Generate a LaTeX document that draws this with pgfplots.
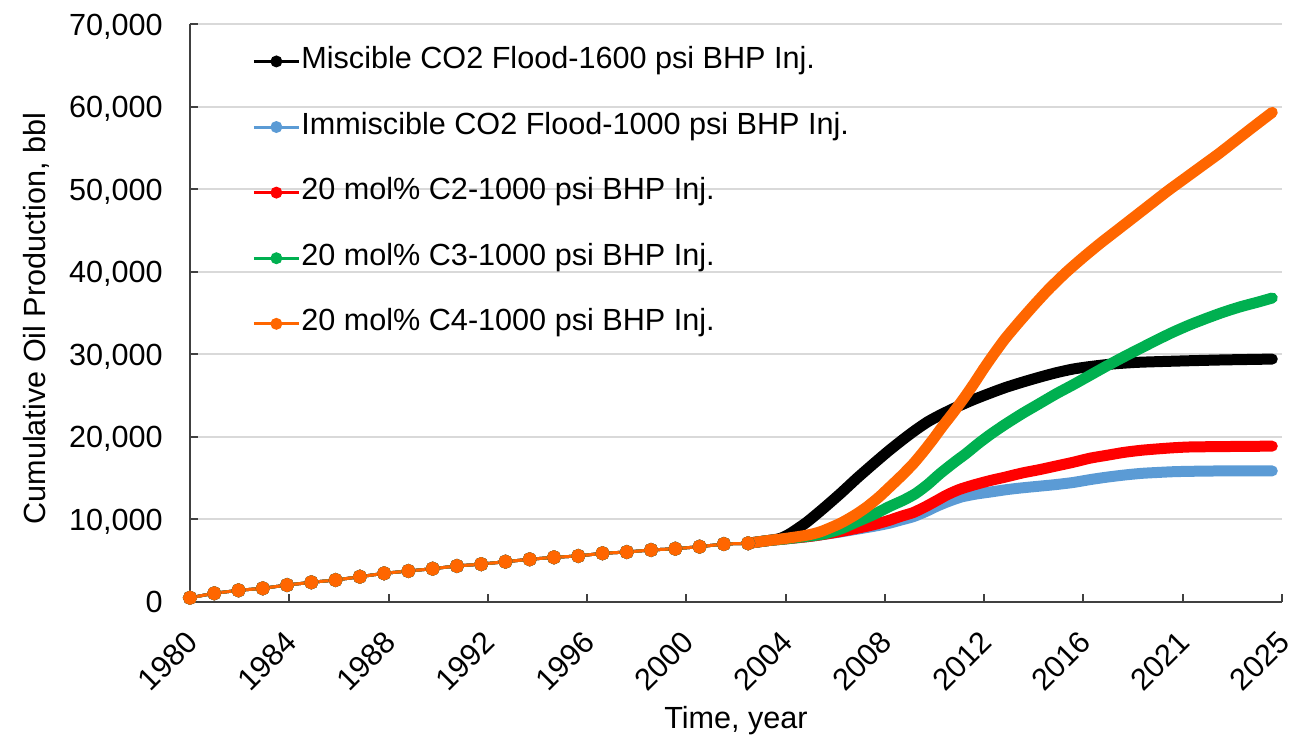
\documentclass[border=0pt]{standalone}
\usepackage{fontspec}
\setmainfont{Liberation Sans}
\usepackage{pgfplots}
\usepackage{pgfplotstable}
\pgfplotsset{compat=1.18}
\definecolor{cBlack}{HTML}{000000}
\definecolor{cBlue}{HTML}{5B9BD5}
\definecolor{cRed}{HTML}{FF0000}
\definecolor{cGreen}{HTML}{00B050}
\definecolor{cOrange}{HTML}{FF6600}
\definecolor{gridc}{HTML}{D9D9D9}
\definecolor{axc}{HTML}{404040}

% shared history (yearly points)
\pgfplotstableread{
x y
1980 480
1981 1020
1982 1380
1983 1620
1984 2020
1985 2350
1986 2630
1987 3030
1988 3440
1989 3720
1990 4000
1991 4330
1992 4550
1993 4850
1994 5140
1995 5380
1996 5540
1997 5870
1998 6020
1999 6270
2000 6420
2001 6670
2002 6990
2003 7080
}\hist

\pgfplotstableread{
x y
2003.0 7080
2003.8 7400
2004.3 7650
2004.7 8200
2005.4 9600
2006.1 11300
2006.8 13100
2007.5 15000
2008.2 16800
2008.8 18300
2009.4 19700
2009.9 20800
2010.4 21800
2010.9 22600
2011.6 23600
2012.3 24500
2013.0 25300
2013.6 25950
2014.3 26600
2015.0 27200
2015.7 27750
2016.4 28200
2017.1 28500
2018.0 28800
2019.0 29000
2020.0 29100
2021.2 29200
2022.6 29300
2024.6 29400
}\miscible

\pgfplotstableread{
x y
2003.0 7080
2003.8 7400
2004.5 7600
2005.5 7900
2006.1 8150
2006.8 8450
2007.5 8800
2008.2 9150
2008.8 9500
2009.3 9900
2009.8 10300
2010.3 10900
2010.8 11600
2011.3 12200
2011.8 12700
2012.4 13050
2013.0 13300
2013.7 13600
2014.3 13800
2015.0 14000
2015.7 14200
2016.4 14450
2017.1 14800
2017.8 15100
2018.5 15350
2019.2 15550
2019.8 15650
2020.5 15750
2021.2 15800
2022.6 15850
2024.6 15850
}\immiscible

\pgfplotstableread{
x y
2003.0 7080
2003.8 7400
2004.5 7600
2005.5 7900
2006.1 8150
2006.8 8500
2007.5 8900
2008.2 9350
2008.8 9850
2009.3 10350
2009.8 10800
2010.3 11500
2010.8 12300
2011.2 12950
2011.7 13600
2012.3 14150
2013.0 14700
2013.6 15100
2014.3 15600
2015.0 16000
2015.7 16450
2016.4 16900
2017.1 17400
2017.8 17750
2018.5 18100
2019.2 18350
2019.8 18500
2020.5 18650
2021.2 18750
2022.6 18800
2024.6 18850
}\ctwo

\pgfplotstableread{
x y
2003.0 7080
2003.8 7400
2004.5 7600
2005.5 7950
2006.1 8200
2006.8 8800
2007.5 9700
2008.2 10600
2008.8 11500
2009.4 12300
2009.9 13100
2010.4 14200
2010.9 15500
2011.5 16900
2012.0 18000
2012.5 19200
2013.0 20300
2013.6 21500
2014.3 22800
2015.0 24000
2015.7 25200
2016.4 26300
2017.1 27450
2017.8 28600
2018.5 29700
2019.2 30750
2019.8 31650
2020.5 32650
2021.2 33550
2021.9 34350
2022.6 35100
2023.3 35750
2024.0 36300
2024.6 36800
}\cthree

\pgfplotstableread{
x y
2003.0 7080
2003.8 7400
2004.5 7650
2005.4 8050
2006.0 8500
2006.8 9500
2007.4 10500
2007.9 11500
2008.4 12700
2008.8 13800
2009.3 15200
2009.8 16700
2010.2 18100
2010.6 19600
2011.0 21200
2011.45 22900
2011.9 24700
2012.3 26400
2012.7 28200
2013.1 29900
2013.6 31900
2014.2 34000
2014.8 36000
2015.4 37900
2016.1 39900
2016.8 41700
2017.5 43400
2018.2 45000
2018.9 46600
2019.6 48200
2020.3 49800
2021.0 51300
2021.7 52800
2022.4 54300
2023.1 55900
2023.8 57500
2024.6 59300
}\cfour

\begin{document}
\begin{tikzpicture}[font=\fontsize{15.3}{18}\selectfont]
\begin{axis}[
  scale only axis, width=546pt, height=288.85pt,
  xmin=1980, xmax=2025, ymin=0, ymax=70000,
  clip=false,
  axis x line*=bottom, axis y line*=left,
  axis line style={axc, line width=1.2pt},
  xtick={1980,1984.0909,1988.1818,1992.2727,1996.3636,2000.4545,2004.5455,2008.6364,2012.7273,2016.8182,2020.9091,2025},
  xticklabels={1980,1984,1988,1992,1996,2000,2004,2008,2012,2016,2021,2025},
  ytick={0,10000,20000,30000,40000,50000,60000,70000},
  yticklabel={\pgfmathprintnumber[1000 sep={,},assume math mode=true]{\tick}},
  scaled y ticks=false,
  ymajorgrids, grid style={gridc, line width=1pt},
  tick align=inside, major tick length=4pt,
  tick style={axc, line width=1pt},
  y tick label style={inner sep=0pt, anchor=base east, xshift=-13.5pt, yshift=-5.5pt},
  x tick label style={inner sep=0pt, yshift=-13.5pt, xshift=-3pt, rotate=45, anchor=north east},
  xlabel={Time, year},
  ylabel={Cumulative Oil Production, bbl},
  xlabel style={at={(axis description cs:0.5,-0.2065)}, anchor=center},
  ylabel style={at={(axis description cs:-0.141,0.490)}, anchor=center},
  legend style={draw=none, fill=none, at={(axis description cs:0,1)}, anchor=north west,
    xshift=31pt, yshift=-11pt, inner sep=0pt, row sep=17.8pt, column sep=0.5pt,
    nodes={inner sep=0pt, text height=11pt, text depth=4pt}},
  legend cell align=left,
  legend image code/.code={\draw[mark repeat=2,mark phase=2,#1] plot coordinates {(0pt,0pt) (11.25pt,0pt) (22.5pt,0pt)};},
]
\addlegendimage{cBlack, line width=1.5pt, mark=*, mark size=2.2pt}
\addlegendentry{Miscible CO2 Flood-1600 psi BHP Inj.}
\addlegendimage{cBlue, line width=1.5pt, mark=*, mark size=2.2pt}
\addlegendentry{Immiscible CO2 Flood-1000 psi BHP Inj.}
\addlegendimage{cRed, line width=1.5pt, mark=*, mark size=2.2pt}
\addlegendentry{20 mol\% C2-1000 psi BHP Inj.}
\addlegendimage{cGreen, line width=1.5pt, mark=*, mark size=2.2pt}
\addlegendentry{20 mol\% C3-1000 psi BHP Inj.}
\addlegendimage{cOrange, line width=1.5pt, mark=*, mark size=2.2pt}
\addlegendentry{20 mol\% C4-1000 psi BHP Inj.}

\addplot[forget plot, cBlack, line width=1.5pt, mark=*, mark size=2.75pt] table[x=x,y=y]{\hist};
\addplot[forget plot, cBlack, line width=5.5pt, line cap=round, line join=round, smooth, tension=0.4] table[x=x,y=y]{\miscible};
\addplot[forget plot, cBlue, line width=1.5pt, mark=*, mark size=2.75pt] table[x=x,y=y]{\hist};
\addplot[forget plot, cBlue, line width=5.5pt, line cap=round, line join=round, smooth, tension=0.4] table[x=x,y=y]{\immiscible};
\addplot[forget plot, cRed, line width=1.5pt, mark=*, mark size=2.75pt] table[x=x,y=y]{\hist};
\addplot[forget plot, cRed, line width=5.5pt, line cap=round, line join=round, smooth, tension=0.4] table[x=x,y=y]{\ctwo};
\addplot[forget plot, cGreen, line width=1.5pt, mark=*, mark size=2.75pt] table[x=x,y=y]{\hist};
\addplot[forget plot, cGreen, line width=5.5pt, line cap=round, line join=round, smooth, tension=0.4] table[x=x,y=y]{\cthree};
\addplot[forget plot, cOrange, line width=1.5pt, mark=*, mark size=2.75pt] table[x=x,y=y]{\hist};
\addplot[forget plot, cOrange, line width=5.5pt, line cap=round, line join=round, smooth, tension=0.4] table[x=x,y=y]{\cfour};
\end{axis}
\pgfresetboundingbox
\path (current axis.south west) ++(-95pt,-67.15pt) coordinate (bbA);
\useasboundingbox (bbA) rectangle ([xshift=651pt,yshift=368pt]bbA);
\end{tikzpicture}
\end{document}
